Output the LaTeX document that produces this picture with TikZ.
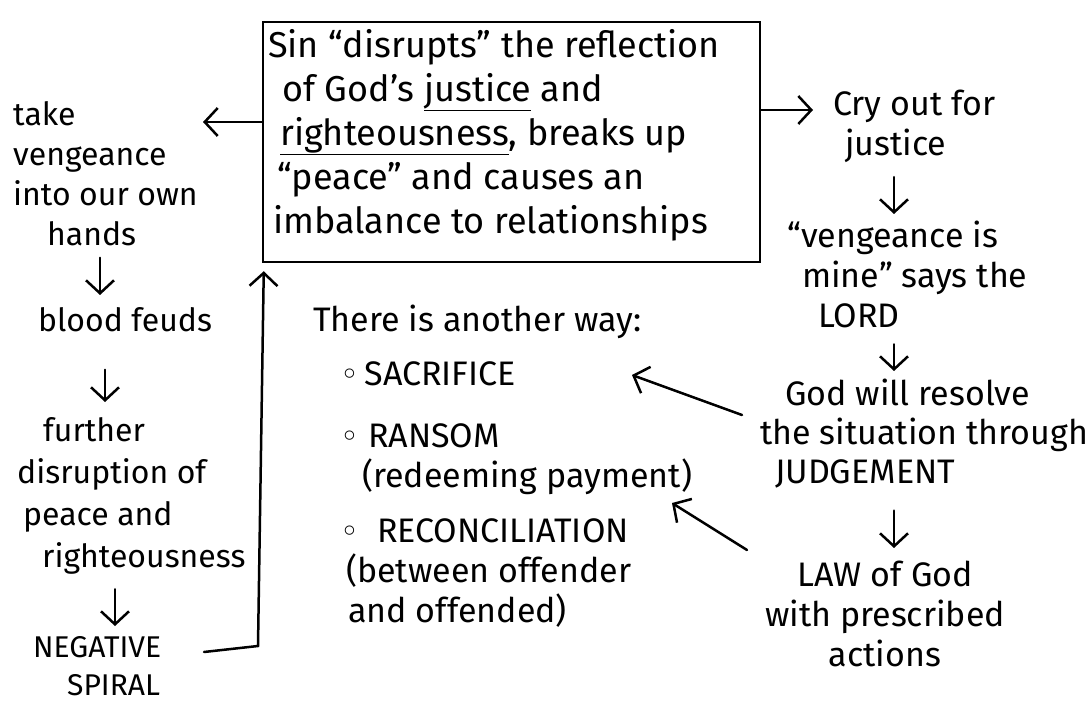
\documentclass[tikz,border=0pt]{standalone}
\usepackage{fontspec}
\setmainfont{Fira Sans}
\newfontfamily\symfam{DejaVu Sans}
\usetikzlibrary{arrows.meta}
\newcommand\fBox{\fontsize{36}{44}\selectfont}
\newcommand\fLeft{\fontsize{32}{40}\selectfont}
\newcommand\fLeftB{\fontsize{32}{42}\selectfont}
\newcommand\fCap{\fontsize{30}{38}\selectfont}
\newcommand\fRight{\fontsize{34}{40}\selectfont}
\newcommand\fRightB{\fontsize{34}{39}\selectfont}
\newcommand\fMid{\fontsize{34}{40}\selectfont}
\newcommand\mybul{{\symfam\fontsize{32}{40}\selectfont ◦}}
\begin{document}
\begin{tikzpicture}[x=1pt,y=-1pt,
  txt/.style={inner sep=0pt, anchor=north west, align=left, text=black},
  arr/.style={line width=2.5pt, line cap=round, -{Straight Barb[length=13pt,width=28pt]}},
  boxstyle/.style={draw, line width=2.5pt, minimum width=497pt, minimum height=240pt, inner sep=0pt}]
\useasboundingbox[fill=white] (0,0) rectangle (1089,708);

% central box
\node[boxstyle] (box) at (511.5,142) {};
\node[txt, font=\fBox] (boxtext) at (268,29) {Sin ``disrupts'' the reflection\\
\hspace*{14pt}of God's \underline{justice} and\\
\hspace*{12pt}\underline{righteousness}, breaks up\\
\hspace*{9pt}``peace'' and causes an\\
\hspace*{5pt}imbalance to relationships};

% left column
\node[txt, font=\fLeft] (take) at (13,101) {take\\ vengeance\\ into our own\\ \hspace*{34pt}hands};
\node[txt, font=\fLeft] (feuds) at (38,307) {blood feuds};
\node[txt, font=\fLeftB] (further) at (17,417) {\hspace*{26pt}further\\ disruption of\\ \hspace*{6pt}peace and\\ \hspace*{25pt}righteousness};
\node[txt, font=\fCap] (spiral) at (33,636) {NEGATIVE\\ \hspace*{34pt}SPIRAL};

% right column
\node[txt, font=\fRight] (cry) at (833,90) {Cry out for\\ \hspace*{12pt}justice};
\node[txt, font=\fRight] (mine) at (787,221) {``vengeance is\\ \hspace*{15pt}mine'' says the\\ \hspace*{31pt}LORD};
\node[txt, font=\fRightB] (judge) at (760,379) {\hspace*{25pt}God will resolve\\ the situation through\\ \hspace*{15pt}JUDGEMENT};
\node[txt, font=\fRight, anchor=north, align=center] (law) at (885,561) {LAW of God\\ with prescribed\\ actions};

% middle
\node[txt, font=\fMid] (way) at (313,305) {There is another way:};
\node[txt, font=\fMid] (list) at (340,361) {\mybul\,SACRIFICE\\[22pt]
\mybul\ RANSOM\\
\hspace*{22pt}(redeeming payment)\\[15pt]
\mybul\ \ RECONCILIATION\\
\hspace*{6pt}(between offender\\
\hspace*{8pt}and offended)};

% coordinates
\coordinate (lc1) at (100,0);
\coordinate (lc2) at (105,0);
\coordinate (lc3) at (115,0);
\coordinate (rc) at (894,0);
\coordinate (taketip) at (203,122);
\coordinate (crytip) at (813,110);
\coordinate (spstart) at (204,652);
\coordinate (spcorner) at (258,646);
\coordinate (a1s) at (742,415);
\coordinate (a1t) at (632,375);
\coordinate (a2s) at (747,550);
\coordinate (a2t) at (672,503);

% connectors
\draw[arr] (box.west |- taketip) -- (taketip);
\draw[arr] (box.east |- crytip) -- (crytip);
\draw[arr, shorten <=12pt, shorten >=12pt] (take.south -| lc1) -- (feuds.north -| lc1);
\draw[arr, shorten <=38pt, shorten >=15pt] (feuds.south -| lc2) -- (further.north -| lc2);
\draw[arr, shorten <=15pt, shorten >=10pt] (further.south -| lc3) -- (spiral.north -| lc3);
\draw[arr] (spstart) -- (spcorner) -- ([xshift=2pt,yshift=-8pt]box.south west);
\draw[arr, shorten <=14pt, shorten >=7pt] (cry.south -| rc) -- (mine.north -| rc);
\draw[arr, shorten <=16pt, shorten >=8pt] (mine.south -| rc) -- (judge.north -| rc);
\draw[arr, shorten <=22pt, shorten >=13pt] (judge.south -| rc) -- (law.north -| rc);
\draw[arr] (a1s) -- (a1t);
\draw[arr] (a2s) -- (a2t);
\end{tikzpicture}
\end{document}
